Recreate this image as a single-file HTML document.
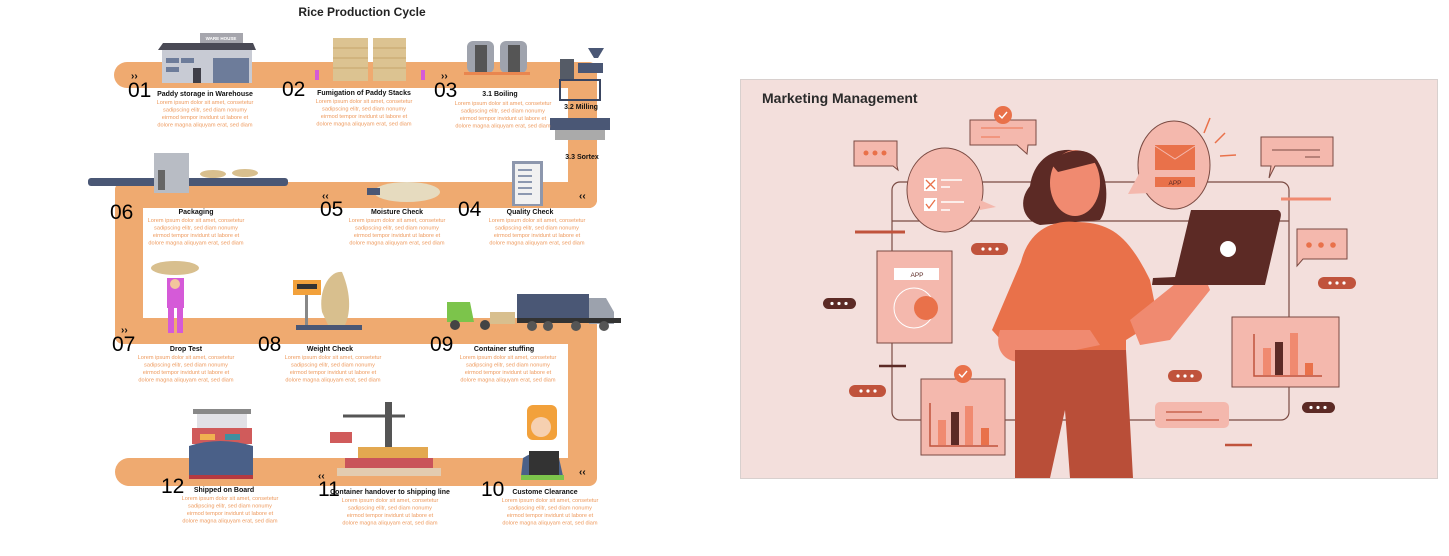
<!DOCTYPE html>
<html><head><meta charset="utf-8"><style>
html,body{margin:0;padding:0;background:#fff;}
svg{display:block;font-family:"Liberation Sans",sans-serif;}
.t{font-size:7px;font-weight:bold;fill:#111;text-anchor:middle}
.n{font-size:21px;fill:#000}
.l{font-size:5.6px;fill:#ee9a5e;text-anchor:middle}
.a{font-size:10px;font-weight:bold;fill:#111}
</style></head><body>
<svg width="1449" height="556" viewBox="0 0 1449 556" xmlns="http://www.w3.org/2000/svg">
<!-- path band -->
<g fill="#efaa70">
<rect x="114" y="62" width="483" height="26" rx="13"/>
<rect x="568" y="62" width="29" height="146" rx="8"/>
<rect x="115" y="182" width="482" height="26" rx="8"/>
<rect x="115" y="182" width="28" height="162" rx="8"/>
<rect x="115" y="318" width="482" height="26" rx="8"/>
<rect x="568" y="318" width="29" height="168" rx="8"/>
<rect x="115" y="458" width="482" height="28" rx="14"/>
</g>
<text x="362" y="16" font-size="12" font-weight="bold" text-anchor="middle" fill="#222">Rice Production Cycle</text>

<!-- illustrations row1 -->
<rect x="200" y="33" width="43" height="10" fill="#a6a6ad"/><text x="221" y="40" font-size="4.5" fill="#fff" text-anchor="middle" font-weight="bold">WARE HOUSE</text>
<polygon points="158,50 256,50 253,43 163,43" fill="#4a4a55"/>
<rect x="162" y="50" width="90" height="33" fill="#c8cbd4"/>
<rect x="213" y="58" width="36" height="25" fill="#6d7c9a"/><rect x="193" y="68" width="8" height="15" fill="#3f3f48"/>
<rect x="166" y="58" width="13" height="5" fill="#6d7c9a"/><rect x="181" y="58" width="13" height="5" fill="#6d7c9a"/><rect x="166" y="67" width="13" height="5" fill="#6d7c9a"/>
<rect x="333" y="38" width="35" height="43" fill="#dcc391"/><rect x="373" y="38" width="33" height="43" fill="#dcc391"/>
<g stroke="#c6a56a" stroke-width="1"><line x1="333" y1="48" x2="368" y2="48"/><line x1="333" y1="58" x2="368" y2="58"/><line x1="333" y1="68" x2="368" y2="68"/><line x1="373" y1="48" x2="406" y2="48"/><line x1="373" y1="58" x2="406" y2="58"/><line x1="373" y1="68" x2="406" y2="68"/></g>
<rect x="315" y="70" width="4" height="10" fill="#d55ad8"/><rect x="421" y="70" width="4" height="10" fill="#d55ad8"/>
<rect x="467" y="41" width="27" height="32" rx="6" fill="#9fa3ad"/><rect x="500" y="41" width="27" height="32" rx="6" fill="#9fa3ad"/>
<rect x="475" y="45" width="12" height="28" fill="#555"/><rect x="508" y="45" width="12" height="28" fill="#555"/>
<rect x="464" y="72" width="66" height="3" fill="#e9864f"/>
<rect x="560" y="59" width="14" height="20" fill="#555b66"/><polygon points="588,48 604,48 598,58 594,58" fill="#4a5775"/><rect x="578" y="63" width="25" height="10" fill="#4a5775"/>
<rect x="560" y="80" width="40" height="20" fill="none" stroke="#3a4560" stroke-width="2"/>
<rect x="550" y="118" width="60" height="12" fill="#4a5775"/><rect x="555" y="130" width="50" height="10" fill="#aaa"/>
<!-- row2 illus -->
<rect x="88" y="178" width="200" height="8" rx="3" fill="#4a5775"/>
<rect x="154" y="153" width="35" height="40" fill="#b8bcc4"/><rect x="158" y="170" width="7" height="20" fill="#666"/>
<ellipse cx="213" cy="174" rx="13" ry="4" fill="#d8bf8e"/><ellipse cx="245" cy="173" rx="13" ry="4" fill="#d8bf8e"/>
<ellipse cx="407" cy="192" rx="33" ry="10" fill="#e6dbbf"/><rect x="367" y="188" width="13" height="7" fill="#4a5775"/>
<rect x="512" y="161" width="31" height="45" fill="#8d97ad"/><rect x="515" y="164" width="25" height="40" fill="#f1f1f1"/>
<g stroke="#6a7a9a" stroke-width="1.5"><line x1="518" y1="170" x2="532" y2="170"/><line x1="518" y1="176" x2="532" y2="176"/><line x1="518" y1="182" x2="532" y2="182"/><line x1="518" y1="188" x2="532" y2="188"/><line x1="518" y1="194" x2="532" y2="194"/></g>
<!-- row3 illus -->
<ellipse cx="175" cy="268" rx="24" ry="7" fill="#d8bf8e"/>
<rect x="167" y="278" width="17" height="30" fill="#d55ad8"/><rect x="168" y="308" width="6" height="25" fill="#d55ad8"/><rect x="177" y="308" width="6" height="25" fill="#d55ad8"/>
<circle cx="175" cy="284" r="5" fill="#f3c59c"/>
<rect x="293" y="280" width="28" height="15" fill="#f2a13b"/><rect x="297" y="284" width="20" height="5" fill="#333"/>
<rect x="305" y="295" width="3" height="30" fill="#888"/><rect x="296" y="325" width="66" height="5" fill="#4a5775"/>
<path d="M322,312 C318,290 330,270 342,272 C352,295 350,315 345,325 L328,325 Z" fill="#d8bf8e"/>
<path d="M447,302 L470,302 L474,322 L447,322 Z" fill="#7cc44b"/><circle cx="455" cy="325" r="5" fill="#444"/><circle cx="485" cy="325" r="5" fill="#444"/>
<rect x="490" y="312" width="25" height="12" fill="#d8bf8e"/>
<rect x="517" y="294" width="72" height="28" fill="#4a5775"/><path d="M589,298 L606,298 L614,312 L614,324 L589,324 Z" fill="#9ca2ad"/>
<rect x="517" y="318" width="104" height="5" fill="#333"/>
<g fill="#555"><circle cx="532" cy="326" r="5"/><circle cx="548" cy="326" r="5"/><circle cx="576" cy="326" r="5"/><circle cx="604" cy="326" r="5"/></g>
<!-- row4 illus -->
<rect x="193" y="409" width="58" height="5" fill="#888"/><rect x="197" y="414" width="50" height="14" fill="#e1e1e6"/>
<rect x="192" y="428" width="60" height="16" fill="#d05b5b"/><rect x="200" y="434" width="15" height="6" fill="#f0b050"/><rect x="225" y="434" width="15" height="6" fill="#3f8fa0"/>
<path d="M189,446 Q220,436 253,446 L253,478 L189,478 Z" fill="#4a6088"/>
<rect x="189" y="475" width="64" height="4" fill="#b53a40"/>
<line x1="343" y1="416" x2="405" y2="416" stroke="#555" stroke-width="3"/><rect x="385" y="402" width="7" height="70" fill="#555"/>
<rect x="330" y="432" width="22" height="11" fill="#d05b5b"/>
<rect x="358" y="447" width="70" height="11" fill="#e3a850"/><rect x="345" y="458" width="88" height="10" fill="#c9545a"/>
<rect x="337" y="468" width="104" height="8" fill="#e3ccb0"/>
<rect x="527" y="405" width="30" height="35" rx="6" fill="#f2a13b"/><circle cx="541" cy="427" r="10" fill="#f6d0b0"/>
<path d="M521,476 L523,458 Q541,446 559,458 L563,476 Z" fill="#4a6088"/><rect x="529" y="451" width="30" height="25" fill="#333"/><rect x="521" y="475" width="43" height="5" fill="#7cc44b"/>

<!-- arrows -->
<text class="a" x="131" y="79">››</text><text class="a" x="441" y="79">››</text>
<text class="a" x="579" y="199">‹‹</text><text class="a" x="322" y="199">‹‹</text>
<text class="a" x="121" y="333">››</text>
<text class="a" x="318" y="479">‹‹</text><text class="a" x="579" y="475">‹‹</text>

<!-- labels -->
<g>
<text class="n" x="128" y="97">01</text><text class="t" x="205" y="96">Paddy storage in Warehouse</text>
<text class="n" x="282" y="96">02</text><text class="t" x="364" y="95">Fumigation of Paddy Stacks</text>
<text class="n" x="434" y="97">03</text><text class="t" x="500" y="96">3.1 Boiling</text>
<text class="t" x="581" y="109">3.2 Milling</text><text class="t" x="582" y="159">3.3 Sortex</text>
<text class="n" x="110" y="219">06</text><text class="t" x="196" y="214">Packaging</text>
<text class="n" x="320" y="216">05</text><text class="t" x="397" y="214">Moisture Check</text>
<text class="n" x="458" y="216">04</text><text class="t" x="530" y="214">Quality Check</text>
<text class="n" x="112" y="351">07</text><text class="t" x="186" y="351">Drop Test</text>
<text class="n" x="258" y="351">08</text><text class="t" x="330" y="351">Weight Check</text>
<text class="n" x="430" y="351">09</text><text class="t" x="504" y="351">Container stuffing</text>
<text class="n" x="161" y="493">12</text><text class="t" x="224" y="492">Shipped on Board</text>
<text class="n" x="318" y="496">11</text><text class="t" x="390" y="494">Container handover to shipping line</text>
<text class="n" x="481" y="496">10</text><text class="t" x="545" y="494">Custome Clearance</text>
</g>
<g class="l">
<g transform="translate(205,104)"><text class="l" y="0">Lorem ipsum dolor sit amet, consetetur</text><text class="l" y="7.5">sadipscing elitr, sed diam nonumy</text><text class="l" y="15">eirmod tempor invidunt ut labore et</text><text class="l" y="22.5">dolore magna aliquyam erat, sed diam</text></g>
<g transform="translate(364,103)"><text class="l" y="0">Lorem ipsum dolor sit amet, consetetur</text><text class="l" y="7.5">sadipscing elitr, sed diam nonumy</text><text class="l" y="15">eirmod tempor invidunt ut labore et</text><text class="l" y="22.5">dolore magna aliquyam erat, sed diam</text></g>
<g transform="translate(503,105)"><text class="l" y="0">Lorem ipsum dolor sit amet, consetetur</text><text class="l" y="7.5">sadipscing elitr, sed diam nonumy</text><text class="l" y="15">eirmod tempor invidunt ut labore et</text><text class="l" y="22.5">dolore magna aliquyam erat, sed diam</text></g>
<g transform="translate(196,222)"><text class="l" y="0">Lorem ipsum dolor sit amet, consetetur</text><text class="l" y="7.5">sadipscing elitr, sed diam nonumy</text><text class="l" y="15">eirmod tempor invidunt ut labore et</text><text class="l" y="22.5">dolore magna aliquyam erat, sed diam</text></g>
<g transform="translate(397,222)"><text class="l" y="0">Lorem ipsum dolor sit amet, consetetur</text><text class="l" y="7.5">sadipscing elitr, sed diam nonumy</text><text class="l" y="15">eirmod tempor invidunt ut labore et</text><text class="l" y="22.5">dolore magna aliquyam erat, sed diam</text></g>
<g transform="translate(537,222)"><text class="l" y="0">Lorem ipsum dolor sit amet, consetetur</text><text class="l" y="7.5">sadipscing elitr, sed diam nonumy</text><text class="l" y="15">eirmod tempor invidunt ut labore et</text><text class="l" y="22.5">dolore magna aliquyam erat, sed diam</text></g>
<g transform="translate(186,359)"><text class="l" y="0">Lorem ipsum dolor sit amet, consetetur</text><text class="l" y="7.5">sadipscing elitr, sed diam nonumy</text><text class="l" y="15">eirmod tempor invidunt ut labore et</text><text class="l" y="22.5">dolore magna aliquyam erat, sed diam</text></g>
<g transform="translate(333,359)"><text class="l" y="0">Lorem ipsum dolor sit amet, consetetur</text><text class="l" y="7.5">sadipscing elitr, sed diam nonumy</text><text class="l" y="15">eirmod tempor invidunt ut labore et</text><text class="l" y="22.5">dolore magna aliquyam erat, sed diam</text></g>
<g transform="translate(508,359)"><text class="l" y="0">Lorem ipsum dolor sit amet, consetetur</text><text class="l" y="7.5">sadipscing elitr, sed diam nonumy</text><text class="l" y="15">eirmod tempor invidunt ut labore et</text><text class="l" y="22.5">dolore magna aliquyam erat, sed diam</text></g>
<g transform="translate(230,500)"><text class="l" y="0">Lorem ipsum dolor sit amet, consetetur</text><text class="l" y="7.5">sadipscing elitr, sed diam nonumy</text><text class="l" y="15">eirmod tempor invidunt ut labore et</text><text class="l" y="22.5">dolore magna aliquyam erat, sed diam</text></g>
<g transform="translate(390,502)"><text class="l" y="0">Lorem ipsum dolor sit amet, consetetur</text><text class="l" y="7.5">sadipscing elitr, sed diam nonumy</text><text class="l" y="15">eirmod tempor invidunt ut labore et</text><text class="l" y="22.5">dolore magna aliquyam erat, sed diam</text></g>
<g transform="translate(550,502)"><text class="l" y="0">Lorem ipsum dolor sit amet, consetetur</text><text class="l" y="7.5">sadipscing elitr, sed diam nonumy</text><text class="l" y="15">eirmod tempor invidunt ut labore et</text><text class="l" y="22.5">dolore magna aliquyam erat, sed diam</text></g>
</g>

<!-- Right panel -->
<rect x="740.5" y="79.5" width="697" height="399" fill="#f3dfdc" stroke="#d8d0ce"/>
<text x="762" y="103" font-size="14" font-weight="bold" fill="#2a2a2a">Marketing Management</text>
<rect x="892" y="182" width="397" height="238" rx="8" fill="none" stroke="#7a4a42" stroke-width="1.2"/>
<line x1="892" y1="221" x2="1289" y2="221" stroke="#7a4a42" stroke-width="1.2"/>
<!-- bubbles top -->
<path d="M970,120 L1036,120 L1036,145 L1028,145 L1027,154 L1017,145 L970,145 Z" fill="#f4b8ad" stroke="#7a4a42"/>
<circle cx="1003" cy="115" r="9" fill="#e9714a"/><path d="M999,115 l3,3 l5,-6" stroke="#fff" fill="none" stroke-width="1.4"/>
<line x1="981" y1="128" x2="1023" y2="128" stroke="#f08a70" stroke-width="1.5"/><line x1="981" y1="137" x2="1000" y2="137" stroke="#f08a70" stroke-width="1.5"/>
<path d="M854,141 L897,141 L897,166 L898,170 L893,166 L854,166 Z" fill="#f4b8ad" stroke="#7a4a42"/>
<g fill="#e9714a"><circle cx="866" cy="153" r="2.5"/><circle cx="875" cy="153" r="2.5"/><circle cx="884" cy="153" r="2.5"/></g>
<ellipse cx="945" cy="190" rx="38" ry="42" fill="#f4b8ad" stroke="#7a4a42"/><polygon points="980,200 996,207 980,210" fill="#f4b8ad"/>
<rect x="924" y="178" width="13" height="13" fill="#fff"/><rect x="924" y="198" width="13" height="13" fill="#fff"/>
<path d="M926,180 l9,9 M935,180 l-9,9" stroke="#e9714a" stroke-width="1.3"/><path d="M926,204 l3,4 l6,-8" stroke="#e9714a" fill="none" stroke-width="1.3"/>
<line x1="941" y1="180" x2="962" y2="180" stroke="#fff" stroke-width="1.5"/><line x1="941" y1="187" x2="950" y2="187" stroke="#fff" stroke-width="1.5"/>
<line x1="941" y1="202" x2="964" y2="202" stroke="#fff" stroke-width="1.5"/><line x1="941" y1="210" x2="950" y2="210" stroke="#fff" stroke-width="1.5"/>
<ellipse cx="1174" cy="165" rx="36" ry="44" fill="#f4b8ad" stroke="#7a4a42"/><polygon points="1140,172 1128,194 1150,193" fill="#f4b8ad"/>
<rect x="1155" y="145" width="40" height="25" fill="#e9714a"/><path d="M1155,146 l20,13 l20,-13" stroke="#f4b8ad" fill="none"/>
<rect x="1155" y="177" width="40" height="10" fill="#e9714a"/><text x="1175" y="185" font-size="6.5" fill="#5c2a25" text-anchor="middle">APP</text>
<g stroke="#e9714a" stroke-width="1.5"><line x1="1204" y1="133" x2="1210" y2="118"/><line x1="1215" y1="143" x2="1225" y2="133"/><line x1="1220" y1="156" x2="1236" y2="155"/></g>
<path d="M1261,137 L1333,137 L1333,166 L1275,166 L1269,178 L1271,166 L1261,166 Z" fill="#f4b8ad" stroke="#7a4a42"/>
<line x1="1272" y1="150" x2="1320" y2="150" stroke="#7a4a42"/><line x1="1305" y1="157" x2="1320" y2="157" stroke="#7a4a42"/>
<line x1="1281" y1="199" x2="1331" y2="199" stroke="#f08a70" stroke-width="3"/>
<line x1="855" y1="232" x2="905" y2="232" stroke="#c0533c" stroke-width="3"/>
<path d="M1297,229 L1347,229 L1347,259 L1303,259 L1297,266 Z" fill="#f4b8ad" stroke="#7a4a42"/>
<g fill="#e9714a"><circle cx="1309" cy="245" r="2.8"/><circle cx="1321" cy="245" r="2.8"/><circle cx="1333" cy="245" r="2.8"/></g>
<!-- pill dots -->
<g fill="#c0533c"><rect x="971" y="243" width="37" height="12" rx="6"/><rect x="1318" y="277" width="38" height="12" rx="6"/><rect x="849" y="385" width="37" height="12" rx="6"/><rect x="1168" y="370" width="34" height="12" rx="6"/></g>
<g fill="#5c2a25"><rect x="823" y="298" width="33" height="11" rx="5.5"/><rect x="1302" y="402" width="33" height="11" rx="5.5"/></g>
<g fill="#fff"><circle cx="983" cy="249" r="1.6"/><circle cx="990" cy="249" r="1.6"/><circle cx="997" cy="249" r="1.6"/>
<circle cx="1330" cy="283" r="1.6"/><circle cx="1337" cy="283" r="1.6"/><circle cx="1344" cy="283" r="1.6"/>
<circle cx="861" cy="391" r="1.6"/><circle cx="868" cy="391" r="1.6"/><circle cx="875" cy="391" r="1.6"/>
<circle cx="1178" cy="376" r="1.6"/><circle cx="1185" cy="376" r="1.6"/><circle cx="1192" cy="376" r="1.6"/>
<circle cx="832" cy="303.5" r="1.6"/><circle cx="839" cy="303.5" r="1.6"/><circle cx="846" cy="303.5" r="1.6"/>
<circle cx="1311" cy="407.5" r="1.6"/><circle cx="1318" cy="407.5" r="1.6"/><circle cx="1325" cy="407.5" r="1.6"/></g>
<!-- app card -->
<rect x="877" y="251" width="75" height="92" fill="#f4b8ad" stroke="#7a4a42"/>
<rect x="894" y="268" width="45" height="12" fill="#fff"/><text x="917" y="277" font-size="6.5" fill="#5c2a25" text-anchor="middle">APP</text>
<circle cx="914" cy="308" r="20" fill="none" stroke="#fff"/><circle cx="926" cy="308" r="12" fill="#e9714a"/>
<line x1="879" y1="366" x2="906" y2="366" stroke="#5c2a25" stroke-width="2.5"/>
<!-- chart card left -->
<rect x="921" y="379" width="84" height="76" fill="#f4b8ad" stroke="#7a4a42"/>
<circle cx="963" cy="374" r="9" fill="#e9714a"/><path d="M959,374 l3,3 l5,-6" stroke="#fff" fill="none" stroke-width="1.4"/>
<polyline points="930,403 930,446 998,446" fill="none" stroke="#c0533c" stroke-width="1.5"/>
<rect x="938" y="420" width="8" height="25" fill="#f08a70"/><rect x="951" y="412" width="8" height="33" fill="#5c2a25"/><rect x="965" y="406" width="8" height="39" fill="#f08a70"/><rect x="981" y="428" width="8" height="17" fill="#e9714a"/>
<!-- chart card right -->
<rect x="1232" y="317" width="107" height="70" fill="#f4b8ad" stroke="#7a4a42"/>
<polyline points="1254,334 1254,376 1322,376" fill="none" stroke="#c0533c" stroke-width="1.5"/>
<rect x="1263" y="348" width="8" height="27" fill="#f08a70"/><rect x="1275" y="342" width="8" height="33" fill="#5c2a25"/><rect x="1290" y="333" width="8" height="42" fill="#f08a70"/><rect x="1305" y="363" width="8" height="12" fill="#e9714a"/>
<!-- text card -->
<rect x="1155" y="402" width="74" height="26" rx="5" fill="#f4b8ad"/>
<line x1="1166" y1="412" x2="1202" y2="412" stroke="#c0533c" stroke-width="1.2"/><line x1="1166" y1="420" x2="1219" y2="420" stroke="#c0533c" stroke-width="1.2"/>
<line x1="1225" y1="445" x2="1252" y2="445" stroke="#c0533c" stroke-width="2.5"/>
<!-- woman -->
<path d="M1030,186 C1035,150 1070,140 1097,160 C1110,180 1108,210 1100,220 L1040,225 C1022,220 1018,200 1030,186 Z" fill="#5c2a25"/>
<ellipse cx="1075" cy="183" rx="25" ry="33" fill="#f08a70"/>
<path d="M1052,165 C1060,148 1090,145 1098,162 L1058,172 Z" fill="#5c2a25"/>
<path d="M1021,262 C1030,225 1060,220 1075,222 C1110,222 1128,235 1150,280 L1158,320 L1126,340 L1126,350 L1010,350 L992,330 Z" fill="#e9714a"/>
<path d="M1010,330 L1090,330 L1100,345 L1018,362 C1000,360 995,345 1000,330 Z" fill="#f08a70"/>
<path d="M1130,320 L1180,280 L1206,280 L1210,290 L1170,340 L1140,345 Z" fill="#f08a70"/>
<path d="M1015,350 L1126,350 L1133,478 L1070,478 L1065,410 L1050,478 L1015,478 Z" fill="#b94e38"/>
<path d="M1191,210 L1278,210 C1282,212 1281,216 1280,220 L1265,285 L1152,285 L1153,278 L1175,277 Z" fill="#5c2a25"/>
<circle cx="1228" cy="249" r="8" fill="#fff"/>
</svg>
</body></html>
